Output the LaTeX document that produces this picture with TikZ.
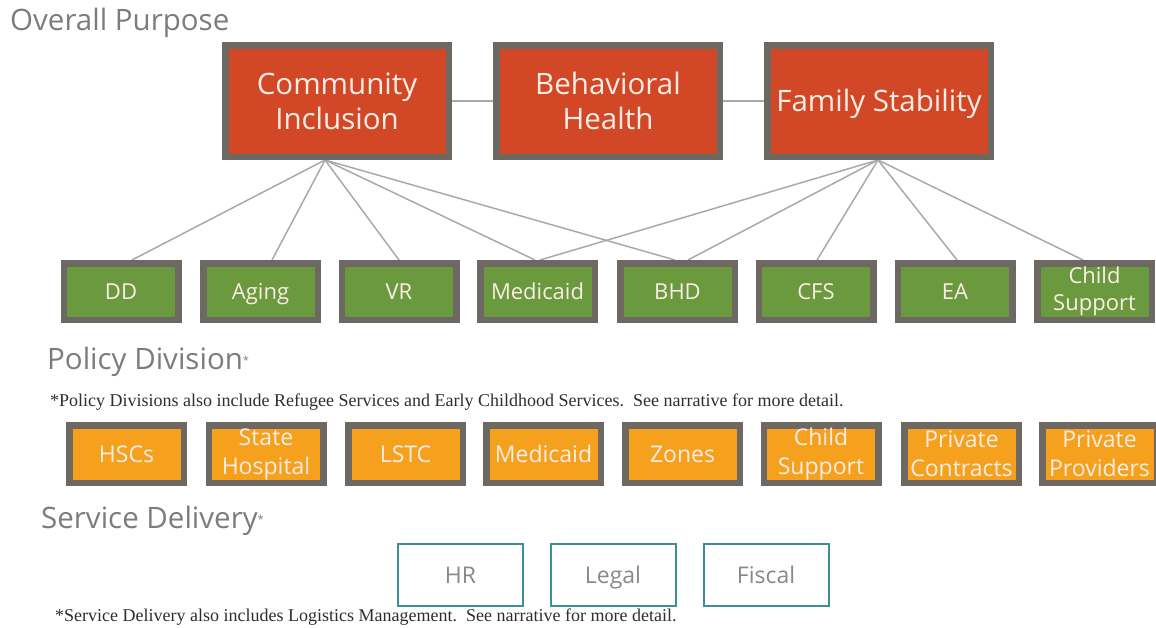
\documentclass[tikz,border=0pt]{standalone}
\usepackage{fontspec}
\setmainfont{Open Sans}
\newfontfamily\notefont{Liberation Serif}
\usetikzlibrary{backgrounds}
\definecolor{redfill}{HTML}{D24726}
\definecolor{greenfill}{HTML}{6A9A3D}
\definecolor{orangefill}{HTML}{F5A11E}
\definecolor{frame}{HTML}{6E6862}
\definecolor{teal}{HTML}{3E8E98}
\definecolor{linkgrey}{HTML}{A9A9A9}
\definecolor{titlegrey}{HTML}{7C7C7C}
\definecolor{boxtext}{HTML}{FBEDE6}
\definecolor{notegrey}{HTML}{2E2E2E}
\tikzset{
  redbox/.style={draw=frame, line width=6.5pt, fill=redfill, minimum width=223.5pt, minimum height=111.5pt,
    inner sep=0pt, align=center, text=boxtext, font=\fontsize{29.5}{35}\selectfont},
  greenbox/.style={draw=frame, line width=6.5pt, fill=greenfill, minimum width=114.5pt, minimum height=56.5pt,
    inner sep=0pt, align=center, text=boxtext, font=\fontsize{22}{27}\selectfont},
  orangebox/.style={draw=frame, line width=6.5pt, fill=orangefill, minimum width=114.5pt, minimum height=57.5pt,
    inner sep=0pt, align=center, text=boxtext, font=\fontsize{23}{29}\selectfont},
  tealbox/.style={draw=teal, line width=2pt, fill=white, minimum width=125pt, minimum height=62pt,
    inner sep=0pt, text=titlegrey!90, font=\fontsize{23}{28}\selectfont},
  oneline/.style={text height=#1, text depth=0pt},
  heading/.style={anchor=base west, inner sep=0pt, text=titlegrey, font=\fontsize{29.5}{35}\selectfont},
  note/.style={anchor=base west, inner sep=0pt, text=notegrey, font=\notefont\fontsize{18}{22}\selectfont},
  link/.style={draw=linkgrey, line width=1.5pt}
}
\begin{document}
\begin{tikzpicture}[x=1pt,y=-1pt]
\clip (0,0) rectangle (1156,627);

% headings
\node[heading] (h1) at (10,30) {Overall Purpose};
\node[heading] (h2) at (47,369) {Policy Division\raisebox{5pt}{\fontsize{11}{11}\selectfont *}};
\node[heading] (h3) at (41,528) {Service Delivery\raisebox{5pt}{\fontsize{11}{11}\selectfont *}};

% notes
\node[note] (n1) at (50,406) {*Policy Divisions also include Refugee Services and Early Childhood Services.\ \ See narrative for more detail.};
\node[note] (n2) at (55,621) {*Service Delivery also includes Logistics Management.\ \ See narrative for more detail.};

% purpose boxes
\node[redbox] (CI) at (337,101) {Community\\Inclusion};
\node[redbox] (BH) at (608,101) {Behavioral\\Health};
\node[redbox, oneline=21pt] (FS) at (879,101) {Family Stability};

% policy division boxes
\node[greenbox, oneline=15.7pt] (DD)  at (121,291.5)  {DD};
\node[greenbox, oneline=15.7pt] (AG)  at (260.5,291.5) {Aging};
\node[greenbox, oneline=15.7pt] (VR)  at (399,291.5)  {VR};
\node[greenbox, oneline=15.7pt] (MD)  at (537.5,291.5) {Medicaid};
\node[greenbox, oneline=15.7pt] (BHD) at (677.5,291.5) {BHD};
\node[greenbox, oneline=15.7pt] (CFS) at (816,291.5)  {CFS};
\node[greenbox, oneline=15.7pt] (EA)  at (955,291.5)  {EA};
\node[greenbox] (CS)  at (1094.5,291.5) {Child\\Support};

% service delivery boxes
\node[orangebox, oneline=16.4pt] (HSC) at (126.5,454) {HSCs};
\node[orangebox] (SH)  at (266,454)   {State\\Hospital};
\node[orangebox, oneline=16.4pt] (LS)  at (405.5,454) {LSTC};
\node[orangebox, oneline=16.4pt] (OM)  at (543.5,454) {Medicaid};
\node[orangebox, oneline=16.4pt] (ZN)  at (682.5,454) {Zones};
\node[orangebox] (OC)  at (821,454)   {Child\\Support};
\node[orangebox] (PC)  at (961.5,454) {Private\\Contracts};
\node[orangebox] (PP)  at (1099.5,454) {Private\\Providers};

% admin boxes
\node[tealbox, oneline=16.4pt] (HR) at (460.5,575) {HR};
\node[tealbox, oneline=16.4pt] (LG) at (613,575)   {Legal};
\node[tealbox, oneline=16.4pt] (FI) at (766,575)   {Fiscal};

\begin{scope}[on background layer]
\draw[link] (CI.east) -- (BH.west);
\draw[link] (BH.east) -- (FS.west);
\draw[link] ([xshift=-12pt]CI.south) -- ([xshift=11pt]DD.north);
\draw[link] ([xshift=-12pt]CI.south) -- ([xshift=11.5pt]AG.north);
\draw[link] ([xshift=-12pt]CI.south) -- (VR.north);
\draw[link] ([xshift=-12pt]CI.south) -- ([xshift=-2.5pt]MD.north);
\draw[link] ([xshift=-12pt]CI.south) -- ([xshift=-2.5pt]BHD.north);
\draw[link] ([xshift=-1pt]FS.south) -- ([xshift=2.5pt]MD.north);
\draw[link] ([xshift=-1pt]FS.south) -- ([xshift=10.5pt]BHD.north);
\draw[link] ([xshift=-1pt]FS.south) -- ([xshift=1pt]CFS.north);
\draw[link] ([xshift=-1pt]FS.south) -- ([xshift=2pt]EA.north);
\draw[link] ([xshift=-1pt]FS.south) -- ([xshift=-11.5pt]CS.north);
\end{scope}
\end{tikzpicture}
\end{document}
